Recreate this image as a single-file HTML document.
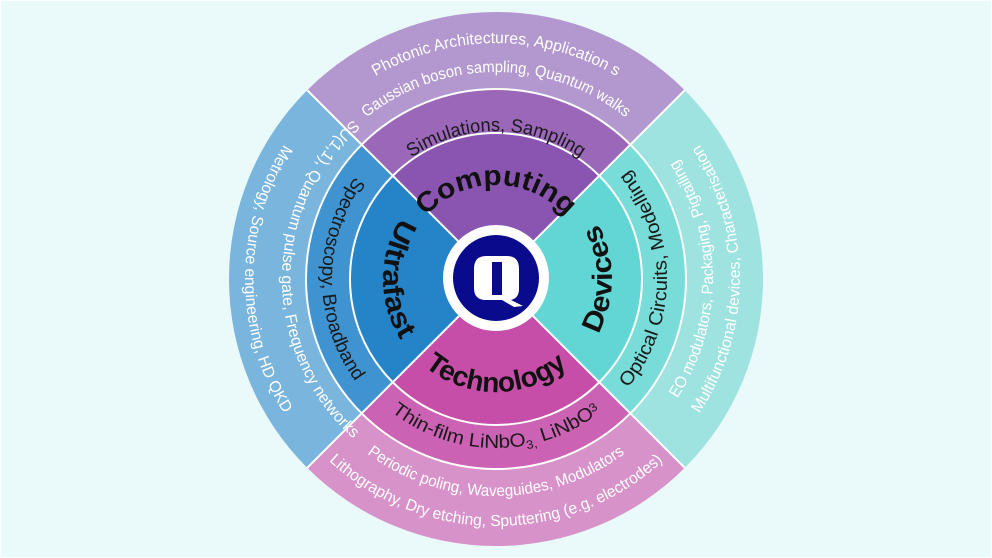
<!DOCTYPE html>
<html><head><meta charset="utf-8"><style>
html,body{margin:0;padding:0;background:#eaf9f9;}
svg{display:block}
text{font-family:"Liberation Sans",sans-serif;}
</style></head><body>
<svg width="992" height="558" viewBox="0 0 992 558" xmlns="http://www.w3.org/2000/svg">
<rect x="0" y="0" width="992" height="558" fill="#fbfefe"/>
<rect x="1" y="1" width="990" height="556" fill="#eaf9f9"/>
<defs>
<path id="t94" d="M402,279 A94,94 0 0 1 590,279"/>
<path id="t148" d="M348,279 A148,148 0 0 1 644,279"/>
<path id="t236" d="M260,279 A236,236 0 0 1 732,279"/>
<path id="t207" d="M289,279 A207,207 0 0 1 703,279"/>
<path id="b113" d="M383,279 A113,113 0 0 0 609,279"/>
<path id="b169" d="M327,279 A169,169 0 0 0 665,279"/>
<path id="b217" d="M279,279 A217,217 0 0 0 713,279"/>
<path id="b247" d="M249,279 A247,247 0 0 0 743,279"/>
<path id="l113" d="M496,166 A113,113 0 0 0 496,392"/>
<path id="l174" d="M496,105 A174,174 0 0 0 496,453"/>
<path id="l214" d="M496,65 A214,214 0 0 0 496,493"/>
<path id="l251" d="M496,28 A251,251 0 0 0 496,530"/>
<path id="r116" d="M496,395 A116,116 0 0 0 496,163"/>
<path id="r171" d="M496,450 A171,171 0 0 0 496,108"/>
<path id="r217" d="M496,496 A217,217 0 0 0 496,62"/>
<path id="r244" d="M496,523 A244,244 0 0 0 496,35"/>
</defs>
<!-- outer -->
<path d="M496,279 L307.2,90.2 A267,267 0 0 1 684.8,90.2 Z" fill="#b398cf"/>
<path d="M496,279 L684.8,90.2 A267,267 0 0 1 684.8,467.8 Z" fill="#9fe3e1"/>
<path d="M496,279 L684.8,467.8 A267,267 0 0 1 307.2,467.8 Z" fill="#d793c9"/>
<path d="M496,279 L307.2,467.8 A267,267 0 0 1 307.2,90.2 Z" fill="#79b5dd"/>
<!-- middle -->
<path d="M496,279 L361.65,144.65 A190,190 0 0 1 630.35,144.65 Z" fill="#9a67b9"/>
<path d="M496,279 L630.35,144.65 A190,190 0 0 1 630.35,413.35 Z" fill="#78dcd8"/>
<path d="M496,279 L630.35,413.35 A190,190 0 0 1 361.65,413.35 Z" fill="#cc62b4"/>
<path d="M496,279 L361.65,413.35 A190,190 0 0 1 361.65,144.65 Z" fill="#3f93d0"/>
<!-- inner -->
<path d="M496,279 L392.76,175.76 A146,146 0 0 1 599.24,175.76 Z" fill="#8a55b0"/>
<path d="M496,279 L599.24,175.76 A146,146 0 0 1 599.24,382.24 Z" fill="#62d6d4"/>
<path d="M496,279 L599.24,382.24 A146,146 0 0 1 392.76,382.24 Z" fill="#c64ea8"/>
<path d="M496,279 L392.76,382.24 A146,146 0 0 1 392.76,175.76 Z" fill="#2583c8"/>
<!-- white separators -->
<g stroke="#ffffff" stroke-width="2" fill="none">
<circle cx="496" cy="279" r="146"/>
<circle cx="496" cy="279" r="190"/>
<line x1="307.2" y1="90.2" x2="684.8" y2="467.8"/>
<line x1="684.8" y1="90.2" x2="307.2" y2="467.8"/>
</g>
<!-- logo -->
<circle cx="496" cy="278" r="53" fill="#ffffff"/>
<circle cx="496" cy="278" r="43" fill="#0a0a8c"/>
<path d="M486,256 L507,256 Q519,256 519,269 L519,289 Q519,298 511,300 L523,306 L514,307 L502,300 L486,300 Q474,300 474,288 L474,269 Q474,256 486,256 Z" fill="#ffffff"/>
<rect x="492" y="262" width="10" height="33" fill="#0a0a8c"/>
<!-- inner labels -->
<g font-weight="bold" fill="#111">
<text font-size="28"><textPath href="#t94" startOffset="50%" text-anchor="middle" textLength="158" lengthAdjust="spacingAndGlyphs">Computing</textPath></text>
<text font-size="28"><textPath href="#b113" startOffset="50%" text-anchor="middle" textLength="155" lengthAdjust="spacingAndGlyphs">Technology</textPath></text>
<text font-size="28"><textPath href="#l113" startOffset="50%" text-anchor="middle" textLength="129" lengthAdjust="spacingAndGlyphs">Ultrafast</textPath></text>
<text font-size="28"><textPath href="#r116" startOffset="50%" text-anchor="middle" textLength="115" lengthAdjust="spacingAndGlyphs">Devices</textPath></text>
</g>
<!-- middle labels -->
<g fill="#1a1a1a" font-size="19">
<text><textPath href="#t148" startOffset="50%" text-anchor="middle" textLength="180" lengthAdjust="spacingAndGlyphs">Simulations, Sampling</textPath></text>
<text><textPath href="#b169" startOffset="50%" text-anchor="middle" textLength="226" lengthAdjust="spacingAndGlyphs">Thin-film LiNbO<tspan font-size="12" dy="4">3,</tspan><tspan dy="-4">  LiNbO</tspan><tspan font-size="12" dy="-4">3</tspan></textPath></text>
<text><textPath href="#l174" startOffset="50%" text-anchor="middle" textLength="219" lengthAdjust="spacingAndGlyphs">Spectroscopy, Broadband</textPath></text>
<text><textPath href="#r171" startOffset="50%" text-anchor="middle" textLength="236" lengthAdjust="spacingAndGlyphs">Optical Circuits, Modelling</textPath></text>
</g>
<!-- outer labels -->
<g fill="#ffffff" font-size="16">
<text><textPath href="#t236" startOffset="50%" text-anchor="middle" textLength="253" lengthAdjust="spacingAndGlyphs">Photonic Architectures,  Application s</textPath></text>
<text><textPath href="#t207" startOffset="50%" text-anchor="middle" textLength="280" lengthAdjust="spacingAndGlyphs">Gaussian boson sampling, Quantum walks</textPath></text>
<text><textPath href="#b217" startOffset="50%" text-anchor="middle" textLength="276" lengthAdjust="spacingAndGlyphs">Periodic poling, Waveguides, Modulators</textPath></text>
<text><textPath href="#b247" startOffset="50%" text-anchor="middle" textLength="367" lengthAdjust="spacingAndGlyphs">Lithography, Dry etching, Sputtering (e.g. electrodes)</textPath></text>
<text><textPath href="#l214" startOffset="50%" text-anchor="middle" textLength="360" lengthAdjust="spacingAndGlyphs">SU(1,1), Quantum pulse gate, Frequency networks</textPath></text>
<text><textPath href="#l251" startOffset="50%" text-anchor="middle" textLength="284" lengthAdjust="spacingAndGlyphs">Metrology, Source engineering, HD QKD</textPath></text>
<text><textPath href="#r217" startOffset="50%" text-anchor="middle" textLength="253" lengthAdjust="spacingAndGlyphs">EO modulators, Packaging, Pigtailing</textPath></text>
<text><textPath href="#r244" startOffset="50%" text-anchor="middle" textLength="285" lengthAdjust="spacingAndGlyphs">Multifunctional devices, Characterisation</textPath></text>
</g>
</svg>
</body></html>
